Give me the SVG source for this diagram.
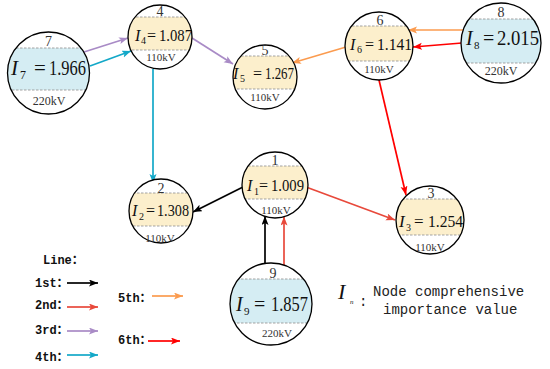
<svg xmlns="http://www.w3.org/2000/svg" width="550" height="369" viewBox="0 0 550 369">
<style>
.ring{fill:none;stroke:#000;stroke-width:1.3}
.y{fill:#fcefcc}
.b{fill:#d5edf3}
.dash{stroke:#999;stroke-width:0.9;stroke-dasharray:2.5,1.5;fill:none}
.num{font-family:"Liberation Serif",serif;font-size:14px;fill:#333;text-anchor:middle}
.kv{font-family:"Liberation Serif",serif;font-size:11px;fill:#333;text-anchor:middle}
.kv2{font-family:"Liberation Serif",serif;font-size:12px;fill:#333;text-anchor:middle}
.lab{font-family:"Liberation Serif",serif;fill:#111}
.it{font-style:italic}
.leg{font-family:"Liberation Mono","Noto Sans CJK SC",monospace;font-size:12px;font-weight:bold;fill:#111}
.desc{font-family:"Liberation Mono",monospace;font-size:14px;fill:#222}
.e{fill:none;stroke-width:1.7}
</style>
<defs>
<marker id="m1" markerUnits="userSpaceOnUse" markerWidth="10" markerHeight="8" refX="9" refY="3.5" orient="auto"><path d="M0,0 L9,3.5 L0,7 L2,3.5 z" fill="#000"/></marker>
<marker id="m2" markerUnits="userSpaceOnUse" markerWidth="10" markerHeight="8" refX="9" refY="3.5" orient="auto"><path d="M0,0 L9,3.5 L0,7 L2,3.5 z" fill="#e8493b"/></marker>
<marker id="m3" markerUnits="userSpaceOnUse" markerWidth="10" markerHeight="8" refX="9" refY="3.5" orient="auto"><path d="M0,0 L9,3.5 L0,7 L2,3.5 z" fill="#a98bc6"/></marker>
<marker id="m4" markerUnits="userSpaceOnUse" markerWidth="10" markerHeight="8" refX="9" refY="3.5" orient="auto"><path d="M0,0 L9,3.5 L0,7 L2,3.5 z" fill="#13a8c8"/></marker>
<marker id="m5" markerUnits="userSpaceOnUse" markerWidth="10" markerHeight="8" refX="9" refY="3.5" orient="auto"><path d="M0,0 L9,3.5 L0,7 L2,3.5 z" fill="#fb9b4f"/></marker>
<marker id="m6" markerUnits="userSpaceOnUse" markerWidth="10" markerHeight="8" refX="9" refY="3.5" orient="auto"><path d="M0,0 L9,3.5 L0,7 L2,3.5 z" fill="#ff0000"/></marker>
<clipPath id="c7"><circle cx="48.5" cy="73" r="41"/></clipPath>
<clipPath id="c4"><circle cx="160" cy="37" r="32"/></clipPath>
<clipPath id="c5"><circle cx="265" cy="77" r="32"/></clipPath>
<clipPath id="c6"><circle cx="379" cy="46" r="34"/></clipPath>
<clipPath id="c8"><circle cx="501" cy="43" r="40"/></clipPath>
<clipPath id="c1"><circle cx="275" cy="185" r="33"/></clipPath>
<clipPath id="c2"><circle cx="161" cy="211" r="32"/></clipPath>
<clipPath id="c3"><circle cx="430" cy="220" r="34"/></clipPath>
<clipPath id="c9"><circle cx="271" cy="304" r="41"/></clipPath>
</defs>

<g id="connectors">
<line class="e" x1="84" y1="52" x2="128" y2="38" stroke="#a98bc6" marker-end="url(#m3)"/>
<line class="e" x1="90" y1="66" x2="131" y2="51" stroke="#13a8c8" marker-end="url(#m4)"/>
<line class="e" x1="192" y1="38" x2="233" y2="64" stroke="#a98bc6" marker-end="url(#m3)"/>
<line class="e" x1="153" y1="69" x2="153" y2="183" stroke="#13a8c8" marker-end="url(#m4)"/>
<line class="e" x1="346" y1="47" x2="292" y2="63" stroke="#fb9b4f" marker-end="url(#m5)"/>
<line class="e" x1="467" y1="30" x2="408" y2="30" stroke="#fb9b4f" marker-end="url(#m5)"/>
<line class="e" x1="462" y1="43" x2="413" y2="47" stroke="#ff0000" marker-end="url(#m6)"/>
<line class="e" x1="379" y1="80" x2="406" y2="195" stroke="#ff0000" marker-end="url(#m6)"/>
<line class="e" x1="243" y1="187" x2="193" y2="212" stroke="#000" marker-end="url(#m1)"/>
<line class="e" x1="306" y1="187" x2="395" y2="220" stroke="#e8493b" marker-end="url(#m2)"/>
<line class="e" x1="265" y1="263.5" x2="265" y2="216" stroke="#000" marker-end="url(#m1)"/>
<line class="e" x1="284" y1="265" x2="284" y2="216.5" stroke="#e8493b" marker-end="url(#m2)"/>
</g>

<g id="node7">
<circle cx="48.5" cy="73" r="41" fill="#fff"/>
<rect class="b" x="0" y="48" width="100" height="42" clip-path="url(#c7)"/>
<g clip-path="url(#c7)"><line class="dash" x1="0" y1="48" x2="100" y2="48"/><line class="dash" x1="0" y1="90" x2="100" y2="90"/></g>
<circle class="ring" cx="48.5" cy="73" r="41"/>
<text class="num" x="48.5" y="46">7</text>
<text class="lab it" x="11" y="75" font-size="21">I</text>
<text class="lab" x="20" y="79" font-size="12">7</text>
<text class="lab" x="34" y="75" font-size="21">=</text>
<text class="lab" x="49" y="75" font-size="21" textLength="37" lengthAdjust="spacingAndGlyphs">1.966</text>
<text class="kv2" x="49" y="105">220kV</text>
</g>

<g id="node4">
<circle cx="160" cy="37" r="32" fill="#fff"/>
<rect class="y" x="120" y="17" width="80" height="33" clip-path="url(#c4)"/>
<g clip-path="url(#c4)"><line class="dash" x1="120" y1="17" x2="200" y2="17"/><line class="dash" x1="120" y1="50" x2="200" y2="50"/></g>
<circle class="ring" cx="160" cy="37" r="32"/>
<text class="num" x="160" y="16">4</text>
<text class="lab it" x="135" y="41" font-size="16">I</text>
<text class="lab" x="141" y="44" font-size="10">4</text>
<text class="lab" x="147" y="41" font-size="16">=</text>
<text class="lab" x="159" y="41" font-size="16" textLength="33" lengthAdjust="spacingAndGlyphs">1.087</text>
<text class="kv" x="161" y="61">110kV</text>
</g>

<g id="node5">
<circle cx="265" cy="77" r="32" fill="#fff"/>
<rect class="y" x="225" y="56" width="80" height="33" clip-path="url(#c5)"/>
<g clip-path="url(#c5)"><line class="dash" x1="225" y1="56" x2="305" y2="56"/><line class="dash" x1="225" y1="89" x2="305" y2="89"/></g>
<circle class="ring" cx="265" cy="77" r="32"/>
<text class="num" x="265" y="55">5</text>
<text class="lab it" x="233" y="79" font-size="16">I</text>
<text class="lab" x="240" y="82" font-size="10">5</text>
<text class="lab" x="253" y="79" font-size="16">=</text>
<text class="lab" x="265" y="79" font-size="16" textLength="29" lengthAdjust="spacingAndGlyphs">1.267</text>
<text class="kv" x="265" y="101">110kV</text>
</g>

<g id="node6">
<circle cx="379" cy="46" r="34" fill="#fff"/>
<rect class="y" x="340" y="26" width="80" height="35" clip-path="url(#c6)"/>
<g clip-path="url(#c6)"><line class="dash" x1="340" y1="26" x2="420" y2="26"/><line class="dash" x1="340" y1="61" x2="420" y2="61"/></g>
<circle class="ring" cx="379" cy="46" r="34"/>
<text class="num" x="380" y="25">6</text>
<text class="lab it" x="350" y="50" font-size="16">I</text>
<text class="lab" x="357" y="53" font-size="10">6</text>
<text class="lab" x="365" y="50" font-size="16">=</text>
<text class="lab" x="377" y="50" font-size="16" textLength="35" lengthAdjust="spacingAndGlyphs">1.141</text>
<text class="kv" x="379" y="73">110kV</text>
</g>

<g id="node8">
<circle cx="501" cy="43" r="40" fill="#fff"/>
<rect class="b" x="455" y="19" width="95" height="44" clip-path="url(#c8)"/>
<g clip-path="url(#c8)"><line class="dash" x1="455" y1="19" x2="550" y2="19"/><line class="dash" x1="455" y1="63" x2="550" y2="63"/></g>
<circle class="ring" cx="501" cy="43" r="40"/>
<text class="num" x="501" y="17">8</text>
<text class="lab it" x="466" y="45" font-size="20">I</text>
<text class="lab" x="474" y="49" font-size="11">8</text>
<text class="lab" x="483" y="45" font-size="20">=</text>
<text class="lab" x="497" y="45" font-size="20" textLength="42" lengthAdjust="spacingAndGlyphs">2.015</text>
<text class="kv2" x="501" y="75">220kV</text>
</g>

<g id="node1">
<circle cx="275" cy="185" r="33" fill="#fff"/>
<rect class="y" x="240" y="166" width="70" height="33" clip-path="url(#c1)"/>
<g clip-path="url(#c1)"><line class="dash" x1="240" y1="166" x2="310" y2="166"/><line class="dash" x1="240" y1="199" x2="310" y2="199"/></g>
<circle class="ring" cx="275" cy="185" r="33"/>
<text class="num" x="275" y="165">1</text>
<text class="lab it" x="247" y="191" font-size="16">I</text>
<text class="lab" x="254" y="195" font-size="10">1</text>
<text class="lab" x="259" y="191" font-size="16">=</text>
<text class="lab" x="271" y="191" font-size="16" textLength="33" lengthAdjust="spacingAndGlyphs">1.009</text>
<text class="kv" x="276" y="214">110kV</text>
</g>

<g id="node2">
<circle cx="161" cy="211" r="32" fill="#fff"/>
<rect class="y" x="125" y="193" width="75" height="33" clip-path="url(#c2)"/>
<g clip-path="url(#c2)"><line class="dash" x1="125" y1="193" x2="200" y2="193"/><line class="dash" x1="125" y1="226" x2="200" y2="226"/></g>
<circle class="ring" cx="161" cy="211" r="32"/>
<text class="num" x="161" y="193">2</text>
<text class="lab it" x="132" y="216" font-size="16">I</text>
<text class="lab" x="139" y="220" font-size="10">2</text>
<text class="lab" x="146" y="216" font-size="16">=</text>
<text class="lab" x="157" y="216" font-size="16" textLength="32" lengthAdjust="spacingAndGlyphs">1.308</text>
<text class="kv" x="160" y="242">110kV</text>
</g>

<g id="node3">
<circle cx="430" cy="220" r="34" fill="#fff"/>
<rect class="y" x="390" y="199" width="80" height="36" clip-path="url(#c3)"/>
<g clip-path="url(#c3)"><line class="dash" x1="390" y1="199" x2="470" y2="199"/><line class="dash" x1="390" y1="235" x2="470" y2="235"/></g>
<circle class="ring" cx="430" cy="220" r="34"/>
<text class="num" x="431" y="198">3</text>
<text class="lab it" x="399" y="227" font-size="17">I</text>
<text class="lab" x="406" y="231" font-size="10">3</text>
<text class="lab" x="414" y="227" font-size="17">=</text>
<text class="lab" x="428" y="227" font-size="17" textLength="35" lengthAdjust="spacingAndGlyphs">1.254</text>
<text class="kv" x="430" y="251">110kV</text>
</g>

<g id="node9">
<circle cx="271" cy="304" r="41" fill="#fff"/>
<rect class="b" x="225" y="279" width="95" height="44" clip-path="url(#c9)"/>
<g clip-path="url(#c9)"><line class="dash" x1="225" y1="279" x2="320" y2="279"/><line class="dash" x1="225" y1="323" x2="320" y2="323"/></g>
<circle class="ring" cx="271" cy="304" r="41"/>
<text class="num" x="273" y="278">9</text>
<text class="lab it" x="236" y="311" font-size="20">I</text>
<text class="lab" x="244" y="315" font-size="11">9</text>
<text class="lab" x="254" y="311" font-size="20">=</text>
<text class="lab" x="271" y="311" font-size="20" textLength="37" lengthAdjust="spacingAndGlyphs">1.857</text>
<text class="kv" x="277" y="337" font-size="11.5">220kV</text>
</g>

<g id="legend">
<text class="leg" x="43" y="264">Line：</text>
<text class="leg" x="35" y="287">1st：</text>
<text class="leg" x="35" y="309">2nd：</text>
<text class="leg" x="35" y="334">3rd：</text>
<text class="leg" x="35" y="361">4th：</text>
<text class="leg" x="118" y="302">5th：</text>
<text class="leg" x="118" y="344">6th：</text>
<line class="e" x1="67" y1="283" x2="98" y2="283" stroke="#000" marker-end="url(#m1)"/>
<line class="e" x1="67" y1="307" x2="98" y2="307" stroke="#e8493b" marker-end="url(#m2)"/>
<line class="e" x1="67" y1="331" x2="98" y2="331" stroke="#a98bc6" marker-end="url(#m3)"/>
<line class="e" x1="67" y1="355" x2="98" y2="355" stroke="#13a8c8" marker-end="url(#m4)"/>
<line class="e" x1="152" y1="296" x2="183" y2="296" stroke="#fb9b4f" marker-end="url(#m5)"/>
<line class="e" x1="148" y1="341" x2="180" y2="341" stroke="#ff0000" marker-end="url(#m6)"/>
</g>

<g id="description">
<text class="lab it" x="338" y="299" font-size="22">I</text>
<text class="lab it" x="350" y="304" font-size="7">n</text>
<text class="desc" x="359" y="306" font-size="16">:</text>
<text class="desc" x="373" y="296">Node comprehensive</text>
<text class="desc" x="383" y="314">importance value</text>
</g>
</svg>
